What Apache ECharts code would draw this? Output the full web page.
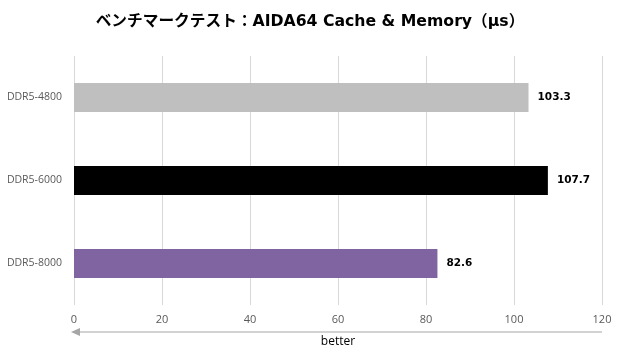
<!DOCTYPE html>
<html><head><meta charset="utf-8">
<script src="https://cdn.jsdelivr.net/npm/echarts@6/dist/echarts.min.js"></script>
<style>html,body{margin:0;padding:0;background:#fff}#c{width:620px;height:350px}</style>
</head><body><div id="c"></div>
<script>
const categories = ['DDR5-4800', 'DDR5-6000', 'DDR5-8000'];
const values = [103.3, 107.7, 82.6];
const barColors = ['#BFBFBF', '#000000', '#8064A2'];
const titleText = 'ベンチマークテスト：AIDA64 Cache & Memory（μs）';
const arrowLabel = 'better';

const chart = echarts.init(document.getElementById('c'), null, {renderer: 'canvas'});
const font = '"Open Sans", "Noto Sans CJK JP", sans-serif';
const wide = '"DejaVu Sans", "Noto Sans CJK JP", sans-serif';
chart.setOption({
  animation: false,
  backgroundColor: '#fff',
  title: {
    text: titleText, left: 'center', top: 9,
    textStyle: {fontFamily: wide, fontSize: 15.7, fontWeight: 'bold', color: '#000'}
  },
  grid: {left: 74, right: 18, top: 56, bottom: 45, containLabel: false},
  xAxis: {
    type: 'value', min: 0, max: 120, interval: 20,
    axisLine: {show: false}, axisTick: {show: false},
    splitLine: {show: true, lineStyle: {color: '#D9D9D9', width: 1}},
    axisLabel: {color: '#595959', fontSize: 11, fontFamily: font, margin: 9}
  },
  yAxis: {
    type: 'category', data: categories, inverse: true,
    axisLine: {show: false}, axisTick: {show: false},
    axisLabel: {color: '#595959', fontSize: 10.5, fontFamily: font, margin: 12}
  },
  series: [{
    type: 'bar', barWidth: 29,
    data: values.map((v, i) => ({value: v, itemStyle: {color: barColors[i]}})),
    label: {show: true, position: 'right', distance: 9, color: '#000', fontWeight: 'bold', fontSize: 10.5, fontFamily: wide,
      formatter: p => p.value.toFixed(1)}
  }]
});

const x0 = chart.convertToPixel({xAxisIndex: 0}, 0);
const x1 = chart.convertToPixel({xAxisIndex: 0}, 120);
const ay = 332;
chart.setOption({
  graphic: [
    {type: 'line', shape: {x1: x0 + 4, y1: ay, x2: x1, y2: ay}, style: {stroke: '#A6A6A6', lineWidth: 1}},
    {type: 'polygon', shape: {points: [[x0 - 3, ay], [x0 + 6, ay - 4], [x0 + 6, ay + 4]]}, style: {fill: '#A6A6A6'}},
    {type: 'text', x: (x0 + x1) / 2, y: 342, style: {text: arrowLabel, fill: '#000', font: '12px ' + font, textAlign: 'center', textVerticalAlign: 'middle'}}
  ]
});
</script></body></html>
